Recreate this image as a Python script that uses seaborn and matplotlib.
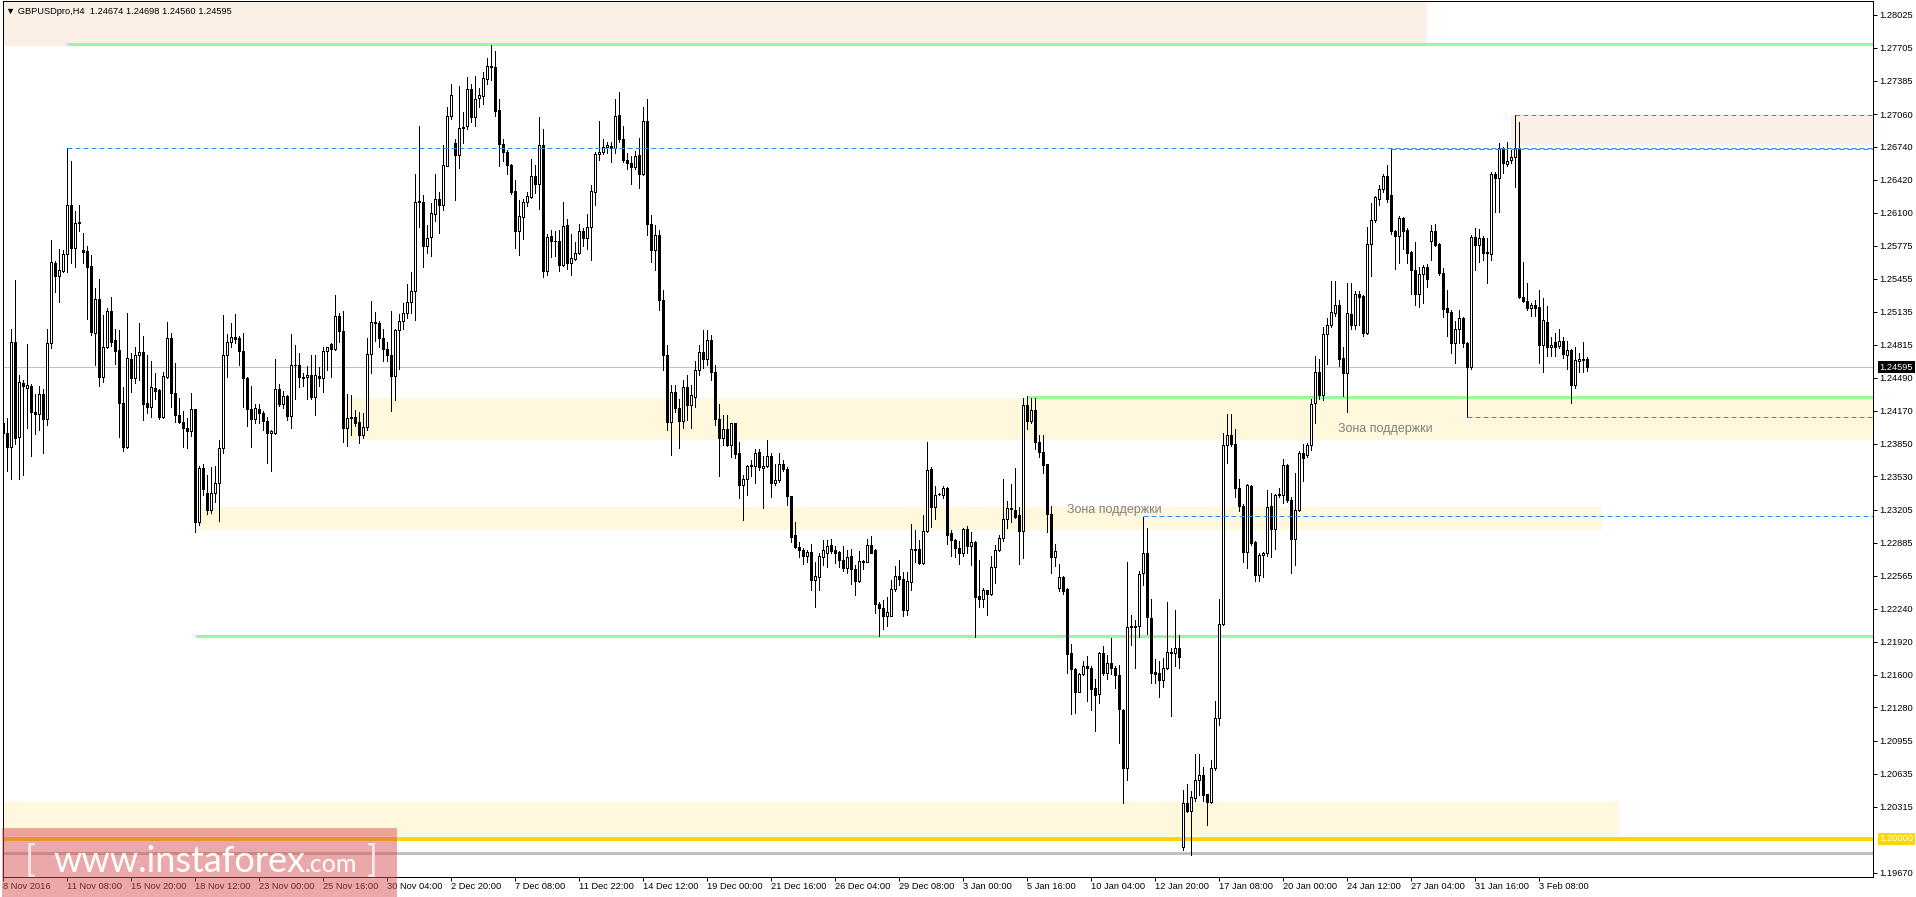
import numpy as np
import pandas as pd
import seaborn as sns
import matplotlib.pyplot as plt
from matplotlib.patches import Rectangle
from matplotlib.transforms import blended_transform_factory

# GBPUSD H4 candles (oldest first)
opens = [
    1.2405, 1.2395, 1.2382, 1.2484, 1.2391, 1.2444, 1.2439, 1.2441, 1.2416, 1.2414,
    1.2433, 1.2409, 1.2483, 1.2561, 1.2548, 1.2553, 1.2570, 1.2617, 1.2576, 1.2600,
    1.2574, 1.2573, 1.2558, 1.2493, 1.2526, 1.2450, 1.2479, 1.2514, 1.2486, 1.2476,
    1.2425, 1.2382, 1.2467, 1.2449, 1.2471, 1.2474, 1.2425, 1.2421, 1.2439, 1.2437,
    1.2411, 1.2450, 1.2488, 1.2434, 1.2413, 1.2406, 1.2400, 1.2397, 1.2419, 1.2309,
    1.2361, 1.2337, 1.2320, 1.2337, 1.2347, 1.2381, 1.2471, 1.2484, 1.2489, 1.2488,
    1.2475, 1.2449, 1.2419, 1.2409, 1.2419, 1.2415, 1.2407, 1.2395, 1.2395, 1.2438,
    1.2424, 1.2431, 1.2412, 1.2462, 1.2462, 1.2450, 1.2450, 1.2452, 1.2430, 1.2451,
    1.2449, 1.2475, 1.2482, 1.2477, 1.2509, 1.2495, 1.2400, 1.2411, 1.2411, 1.2406,
    1.2393, 1.2401, 1.2472, 1.2503, 1.2502, 1.2488, 1.2477, 1.2471, 1.2451, 1.2496,
    1.2504, 1.2512, 1.2523, 1.2534, 1.2620, 1.2620, 1.2577, 1.2586, 1.2609, 1.2623,
    1.2617, 1.2655, 1.2704, 1.2678, 1.2666, 1.2692, 1.2694, 1.2730, 1.2703, 1.2722,
    1.2724, 1.2740, 1.2752, 1.2752, 1.2710, 1.2677, 1.2669, 1.2656, 1.2631, 1.2592,
    1.2606, 1.2620, 1.2625, 1.2646, 1.2638, 1.2676, 1.2553, 1.2587, 1.2582, 1.2582,
    1.2559, 1.2598, 1.2561, 1.2565, 1.2571, 1.2592, 1.2585, 1.2596, 1.2630, 1.2667,
    1.2669, 1.2674, 1.2675, 1.2673, 1.2705, 1.2682, 1.2661, 1.2658, 1.2654, 1.2666,
    1.2648, 1.2699, 1.2599, 1.2574, 1.2588, 1.2525, 1.2471, 1.2406, 1.2435, 1.2420,
    1.2407, 1.2440, 1.2423, 1.2430, 1.2457, 1.2474, 1.2467, 1.2486, 1.2455, 1.2409,
    1.2390, 1.2399, 1.2384, 1.2405, 1.2376, 1.2345, 1.2351, 1.2364, 1.2363, 1.2377,
    1.2361, 1.2363, 1.2373, 1.2347, 1.2350, 1.2365, 1.2360, 1.2334, 1.2296, 1.2284,
    1.2281, 1.2276, 1.2279, 1.2252, 1.2255, 1.2275, 1.2278, 1.2286, 1.2281, 1.2279,
    1.2272, 1.2264, 1.2276, 1.2263, 1.2251, 1.2271, 1.2270, 1.2286, 1.2281, 1.2229,
    1.2225, 1.2217, 1.2217, 1.2243, 1.2256, 1.2253, 1.2223, 1.2250, 1.2282, 1.2282,
    1.2269, 1.2300, 1.2360, 1.2323, 1.2336, 1.2335, 1.2342, 1.2298, 1.2291, 1.2283,
    1.2278, 1.2302, 1.2285, 1.2289, 1.2237, 1.2234, 1.2242, 1.2239, 1.2265, 1.2281,
    1.2293, 1.2312, 1.2321, 1.2320, 1.2315, 1.2300, 1.2423, 1.2407, 1.2418, 1.2387,
    1.2377, 1.2365, 1.2316, 1.2275, 1.2244, 1.2255, 1.2243, 1.2181, 1.2165, 1.2143,
    1.2161, 1.2168, 1.2166, 1.2147, 1.2141, 1.2181, 1.2162, 1.2171, 1.2166, 1.2160,
    1.2126, 1.2069, 1.2207, 1.2206, 1.2207, 1.2259, 1.2278, 1.2215, 1.2163, 1.2162,
    1.2155, 1.2166, 1.2182, 1.2181, 1.2186, 1.1992, 1.2035, 1.2027, 1.2040, 1.2057,
    1.2062, 1.2044, 1.2036, 1.2069, 1.2118, 1.2209, 1.2384, 1.2393, 1.2385, 1.2342,
    1.2324, 1.2279, 1.2344, 1.2289, 1.2257, 1.2277, 1.2278, 1.2324, 1.2302, 1.2335,
    1.2335, 1.2364, 1.2330, 1.2292, 1.2320, 1.2376, 1.2374, 1.2384, 1.2425, 1.2455,
    1.2432, 1.2492, 1.2501, 1.2512, 1.2520, 1.2468, 1.2454, 1.2511, 1.2501, 1.2531,
    1.2529, 1.2493, 1.2579, 1.2603, 1.2623, 1.2633, 1.2646, 1.2627, 1.2592, 1.2587,
    1.2605, 1.2593, 1.2572, 1.2554, 1.2531, 1.2550, 1.2557, 1.2582, 1.2592, 1.2579,
    1.2551, 1.2517, 1.2513, 1.2483, 1.2497, 1.2507, 1.2483, 1.2460, 1.2586, 1.2578,
    1.2585, 1.2572, 1.2570, 1.2648, 1.2644, 1.2673, 1.2657, 1.2661, 1.2664, 1.2673,
    1.2528, 1.2524, 1.2517, 1.2520, 1.2518, 1.2481, 1.2503, 1.2479, 1.2484, 1.2480,
    1.2485, 1.2471, 1.2476, 1.2442, 1.2465, 1.2467, 1.24674,
]
highs = [
    1.2415, 1.2410, 1.2497, 1.2544, 1.2452, 1.2447, 1.2482, 1.2443, 1.2433, 1.2441,
    1.2438, 1.2497, 1.2583, 1.2563, 1.2575, 1.2574, 1.2673, 1.2660, 1.2612, 1.2617,
    1.2590, 1.2577, 1.2569, 1.2537, 1.2545, 1.2510, 1.2517, 1.2528, 1.2497, 1.2496,
    1.2440, 1.2512, 1.2473, 1.2479, 1.2502, 1.2490, 1.2471, 1.2465, 1.2454, 1.2438,
    1.2455, 1.2503, 1.2493, 1.2464, 1.2429, 1.2417, 1.2410, 1.2434, 1.2419, 1.2363,
    1.2365, 1.2354, 1.2362, 1.2363, 1.2389, 1.2510, 1.2492, 1.2502, 1.2511, 1.2490,
    1.2493, 1.2450, 1.2441, 1.2424, 1.2424, 1.2417, 1.2411, 1.2398, 1.2467, 1.2443,
    1.2436, 1.2432, 1.2492, 1.2481, 1.2473, 1.2454, 1.2461, 1.2471, 1.2471, 1.2460,
    1.2479, 1.2479, 1.2483, 1.2530, 1.2512, 1.2514, 1.2433, 1.2432, 1.2418, 1.2416,
    1.2415, 1.2488, 1.2524, 1.2513, 1.2504, 1.2497, 1.2484, 1.2514, 1.2497, 1.2511,
    1.2522, 1.2540, 1.2552, 1.2648, 1.2694, 1.2627, 1.2598, 1.2619, 1.2648, 1.2630,
    1.2676, 1.2713, 1.2735, 1.2682, 1.2733, 1.2708, 1.2742, 1.2735, 1.2743, 1.2731,
    1.2747, 1.2761, 1.2773, 1.2767, 1.2721, 1.2682, 1.2671, 1.2657, 1.2642, 1.2622,
    1.2623, 1.2630, 1.2662, 1.2656, 1.2703, 1.2691, 1.2589, 1.2593, 1.2592, 1.2593,
    1.2620, 1.2604, 1.2589, 1.2581, 1.2599, 1.2595, 1.2609, 1.2637, 1.2669, 1.2699,
    1.2682, 1.2679, 1.2679, 1.2721, 1.2727, 1.2694, 1.2668, 1.2665, 1.2670, 1.2683,
    1.2713, 1.2721, 1.2608, 1.2598, 1.2593, 1.2535, 1.2481, 1.2442, 1.2442, 1.2428,
    1.2447, 1.2452, 1.2442, 1.2465, 1.2481, 1.2496, 1.2496, 1.2491, 1.2462, 1.2424,
    1.2413, 1.2413, 1.2405, 1.2405, 1.2387, 1.2354, 1.2364, 1.2369, 1.2380, 1.2380,
    1.2373, 1.2389, 1.2376, 1.2365, 1.2376, 1.2369, 1.2362, 1.2334, 1.2309, 1.2289,
    1.2283, 1.2281, 1.2287, 1.2270, 1.2278, 1.2291, 1.2291, 1.2292, 1.2285, 1.2280,
    1.2285, 1.2281, 1.2282, 1.2267, 1.2280, 1.2272, 1.2292, 1.2295, 1.2282, 1.2231,
    1.2233, 1.2236, 1.2252, 1.2266, 1.2272, 1.2260, 1.2260, 1.2307, 1.2301, 1.2291,
    1.2315, 1.2387, 1.2362, 1.2344, 1.2337, 1.2344, 1.2343, 1.2301, 1.2292, 1.2290,
    1.2303, 1.2305, 1.2299, 1.2290, 1.2272, 1.2244, 1.2242, 1.2276, 1.2286, 1.2296,
    1.2351, 1.2329, 1.2346, 1.2361, 1.2323, 1.2429, 1.2431, 1.2429, 1.2429, 1.2393,
    1.2393, 1.2365, 1.2324, 1.2287, 1.2268, 1.2256, 1.2244, 1.2190, 1.2166, 1.2162,
    1.2173, 1.2178, 1.2168, 1.2156, 1.2182, 1.2188, 1.2179, 1.2196, 1.2168, 1.2169,
    1.2127, 1.2270, 1.2218, 1.2213, 1.2261, 1.2314, 1.2303, 1.2234, 1.2175, 1.2173,
    1.2176, 1.2231, 1.2186, 1.2223, 1.2199, 1.2048, 1.2053, 1.2047, 1.2083, 1.2083,
    1.2070, 1.2044, 1.2077, 1.2134, 1.2234, 1.2395, 1.2414, 1.2414, 1.2399, 1.2351,
    1.2326, 1.2346, 1.2345, 1.2290, 1.2278, 1.2279, 1.2340, 1.2337, 1.2336, 1.2342,
    1.2370, 1.2365, 1.2333, 1.2356, 1.2378, 1.2385, 1.2386, 1.2428, 1.2470, 1.2467,
    1.2499, 1.2507, 1.2543, 1.2543, 1.2525, 1.2479, 1.2541, 1.2541, 1.2534, 1.2534,
    1.2530, 1.2596, 1.2619, 1.2626, 1.2637, 1.2648, 1.2656, 1.2672, 1.2593, 1.2607,
    1.2606, 1.2595, 1.2573, 1.2581, 1.2557, 1.2559, 1.2560, 1.2598, 1.2599, 1.2580,
    1.2556, 1.2535, 1.2515, 1.2504, 1.2515, 1.2508, 1.2484, 1.2588, 1.2595, 1.2594,
    1.2587, 1.2585, 1.2650, 1.2650, 1.2678, 1.2674, 1.2679, 1.2671, 1.2705, 1.2698,
    1.2562, 1.2541, 1.2522, 1.2525, 1.2535, 1.2527, 1.2519, 1.2489, 1.2493, 1.2497,
    1.2489, 1.2485, 1.2477, 1.2479, 1.2473, 1.2484, 1.24698,
]
lows = [
    1.2363, 1.2358, 1.2351, 1.2385, 1.2351, 1.2354, 1.2400, 1.2373, 1.2394, 1.2398,
    1.2376, 1.2403, 1.2478, 1.2533, 1.2523, 1.2552, 1.2552, 1.2561, 1.2557, 1.2592,
    1.2561, 1.2506, 1.2491, 1.2462, 1.2441, 1.2445, 1.2478, 1.2480, 1.2463, 1.2391,
    1.2378, 1.2381, 1.2435, 1.2444, 1.2447, 1.2408, 1.2415, 1.2411, 1.2428, 1.2409,
    1.2410, 1.2449, 1.2421, 1.2406, 1.2405, 1.2382, 1.2381, 1.2392, 1.2299, 1.2306,
    1.2335, 1.2316, 1.2317, 1.2328, 1.2310, 1.2376, 1.2450, 1.2479, 1.2483, 1.2462,
    1.2421, 1.2402, 1.2382, 1.2405, 1.2405, 1.2398, 1.2366, 1.2358, 1.2394, 1.2422,
    1.2420, 1.2408, 1.2400, 1.2428, 1.2440, 1.2441, 1.2428, 1.2428, 1.2413, 1.2441,
    1.2435, 1.2457, 1.2450, 1.2476, 1.2484, 1.2387, 1.2383, 1.2393, 1.2402, 1.2386,
    1.2390, 1.2398, 1.2454, 1.2485, 1.2479, 1.2465, 1.2465, 1.2417, 1.2427, 1.2458,
    1.2497, 1.2507, 1.2512, 1.2505, 1.2596, 1.2557, 1.2571, 1.2568, 1.2602, 1.2590,
    1.2613, 1.2655, 1.2701, 1.2622, 1.2653, 1.2678, 1.2691, 1.2698, 1.2694, 1.2713,
    1.2716, 1.2735, 1.2739, 1.2704, 1.2655, 1.2660, 1.2648, 1.2628, 1.2576, 1.2569,
    1.2584, 1.2616, 1.2624, 1.2629, 1.2614, 1.2547, 1.2549, 1.2567, 1.2568, 1.2553,
    1.2558, 1.2555, 1.2549, 1.2564, 1.2570, 1.2577, 1.2575, 1.2564, 1.2617, 1.2661,
    1.2667, 1.2668, 1.2659, 1.2668, 1.2679, 1.2659, 1.2652, 1.2638, 1.2652, 1.2634,
    1.2647, 1.2588, 1.2562, 1.2554, 1.2515, 1.2457, 1.2398, 1.2374, 1.2416, 1.2381,
    1.2400, 1.2408, 1.2400, 1.2421, 1.2452, 1.2459, 1.2462, 1.2447, 1.2403, 1.2353,
    1.2384, 1.2383, 1.2372, 1.2371, 1.2332, 1.2311, 1.2335, 1.2353, 1.2347, 1.2359,
    1.2322, 1.2362, 1.2333, 1.2345, 1.2348, 1.2358, 1.2325, 1.2289, 1.2283, 1.2275,
    1.2268, 1.2270, 1.2242, 1.2226, 1.2242, 1.2267, 1.2265, 1.2278, 1.2269, 1.2265,
    1.2261, 1.2259, 1.2248, 1.2238, 1.2250, 1.2263, 1.2270, 1.2278, 1.2220, 1.2198,
    1.2204, 1.2207, 1.2217, 1.2241, 1.2247, 1.2217, 1.2218, 1.2242, 1.2270, 1.2268,
    1.2268, 1.2299, 1.2304, 1.2312, 1.2335, 1.2332, 1.2287, 1.2276, 1.2275, 1.2268,
    1.2276, 1.2278, 1.2267, 1.2197, 1.2226, 1.2226, 1.2218, 1.2238, 1.2249, 1.2280,
    1.2290, 1.2303, 1.2309, 1.2313, 1.2268, 1.2274, 1.2399, 1.2405, 1.2380, 1.2372,
    1.2356, 1.2299, 1.2259, 1.2266, 1.2241, 1.2239, 1.2162, 1.2122, 1.2123, 1.2143,
    1.2160, 1.2134, 1.2126, 1.2105, 1.2132, 1.2160, 1.2156, 1.2161, 1.2147, 1.2093,
    1.2035, 1.2057, 1.2189, 1.2166, 1.2197, 1.2247, 1.2200, 1.2152, 1.2152, 1.2138,
    1.2148, 1.2165, 1.2120, 1.2168, 1.2166, 1.1989, 1.2026, 1.1984, 1.2037, 1.2043,
    1.2037, 1.2014, 1.2035, 1.2067, 1.2111, 1.2208, 1.2366, 1.2383, 1.2333, 1.2319,
    1.2270, 1.2264, 1.2286, 1.2251, 1.2251, 1.2255, 1.2276, 1.2275, 1.2282, 1.2333,
    1.2327, 1.2328, 1.2259, 1.2267, 1.2319, 1.2349, 1.2372, 1.2379, 1.2405, 1.2428,
    1.2427, 1.2463, 1.2499, 1.2509, 1.2461, 1.2431, 1.2416, 1.2497, 1.2497, 1.2501,
    1.2490, 1.2492, 1.2548, 1.2601, 1.2617, 1.2630, 1.2620, 1.2589, 1.2555, 1.2561,
    1.2575, 1.2561, 1.2531, 1.2520, 1.2518, 1.2522, 1.2538, 1.2564, 1.2577, 1.2549,
    1.2508, 1.2490, 1.2473, 1.2464, 1.2483, 1.2479, 1.2411, 1.2458, 1.2554, 1.2562,
    1.2564, 1.2541, 1.2564, 1.2611, 1.2611, 1.2649, 1.2655, 1.2658, 1.2635, 1.2527,
    1.2523, 1.2515, 1.2509, 1.2509, 1.2464, 1.2455, 1.2470, 1.2470, 1.2470, 1.2478,
    1.2468, 1.2458, 1.2425, 1.2439, 1.2455, 1.2455, 1.24560,
]
closes = [
    1.2395, 1.2382, 1.2484, 1.2390, 1.2445, 1.2441, 1.2442, 1.2416, 1.2414, 1.2433,
    1.2409, 1.2483, 1.2562, 1.2548, 1.2554, 1.2570, 1.2617, 1.2576, 1.2600, 1.2601,
    1.2572, 1.2557, 1.2494, 1.2526, 1.2450, 1.2479, 1.2514, 1.2484, 1.2475, 1.2425,
    1.2382, 1.2468, 1.2449, 1.2471, 1.2474, 1.2424, 1.2421, 1.2440, 1.2436, 1.2411,
    1.2451, 1.2488, 1.2434, 1.2413, 1.2406, 1.2400, 1.2397, 1.2419, 1.2309, 1.2361,
    1.2341, 1.2320, 1.2337, 1.2347, 1.2381, 1.2471, 1.2484, 1.2489, 1.2487, 1.2475,
    1.2449, 1.2419, 1.2409, 1.2420, 1.2415, 1.2407, 1.2395, 1.2397, 1.2438, 1.2424,
    1.2431, 1.2412, 1.2462, 1.2462, 1.2450, 1.2449, 1.2452, 1.2430, 1.2452, 1.2449,
    1.2475, 1.2479, 1.2477, 1.2509, 1.2495, 1.2400, 1.2410, 1.2410, 1.2405, 1.2393,
    1.2401, 1.2472, 1.2503, 1.2502, 1.2488, 1.2477, 1.2471, 1.2451, 1.2496, 1.2504,
    1.2512, 1.2523, 1.2534, 1.2620, 1.2621, 1.2577, 1.2585, 1.2610, 1.2623, 1.2617,
    1.2656, 1.2704, 1.2725, 1.2666, 1.2692, 1.2693, 1.2730, 1.2703, 1.2721, 1.2725,
    1.2741, 1.2753, 1.2753, 1.2709, 1.2677, 1.2669, 1.2656, 1.2630, 1.2592, 1.2607,
    1.2620, 1.2626, 1.2646, 1.2638, 1.2676, 1.2553, 1.2586, 1.2582, 1.2582, 1.2559,
    1.2597, 1.2561, 1.2566, 1.2571, 1.2592, 1.2585, 1.2596, 1.2631, 1.2667, 1.2669,
    1.2674, 1.2676, 1.2673, 1.2704, 1.2682, 1.2661, 1.2658, 1.2654, 1.2665, 1.2648,
    1.2699, 1.2599, 1.2574, 1.2588, 1.2525, 1.2471, 1.2406, 1.2435, 1.2420, 1.2407,
    1.2440, 1.2423, 1.2432, 1.2457, 1.2474, 1.2467, 1.2486, 1.2455, 1.2409, 1.2390,
    1.2399, 1.2384, 1.2405, 1.2375, 1.2345, 1.2351, 1.2363, 1.2363, 1.2376, 1.2362,
    1.2363, 1.2373, 1.2347, 1.2350, 1.2365, 1.2360, 1.2334, 1.2294, 1.2284, 1.2281,
    1.2276, 1.2279, 1.2252, 1.2256, 1.2276, 1.2281, 1.2285, 1.2280, 1.2278, 1.2272,
    1.2264, 1.2275, 1.2263, 1.2251, 1.2271, 1.2270, 1.2286, 1.2278, 1.2229, 1.2225,
    1.2217, 1.2221, 1.2243, 1.2256, 1.2253, 1.2223, 1.2251, 1.2282, 1.2281, 1.2269,
    1.2300, 1.2359, 1.2323, 1.2335, 1.2336, 1.2342, 1.2296, 1.2291, 1.2283, 1.2278,
    1.2302, 1.2285, 1.2289, 1.2236, 1.2234, 1.2242, 1.2239, 1.2265, 1.2281, 1.2293,
    1.2312, 1.2322, 1.2322, 1.2314, 1.2300, 1.2423, 1.2407, 1.2418, 1.2387, 1.2377,
    1.2364, 1.2316, 1.2275, 1.2280, 1.2255, 1.2241, 1.2180, 1.2165, 1.2143, 1.2161,
    1.2168, 1.2166, 1.2146, 1.2140, 1.2181, 1.2162, 1.2171, 1.2166, 1.2160, 1.2127,
    1.2069, 1.2206, 1.2206, 1.2207, 1.2258, 1.2278, 1.2216, 1.2162, 1.2161, 1.2155,
    1.2166, 1.2182, 1.2181, 1.2186, 1.2177, 1.2035, 1.2027, 1.2041, 1.2057, 1.2062,
    1.2043, 1.2036, 1.2069, 1.2118, 1.2209, 1.2384, 1.2393, 1.2385, 1.2342, 1.2324,
    1.2279, 1.2345, 1.2288, 1.2257, 1.2277, 1.2278, 1.2323, 1.2302, 1.2335, 1.2336,
    1.2364, 1.2330, 1.2292, 1.2320, 1.2376, 1.2371, 1.2384, 1.2424, 1.2455, 1.2432,
    1.2492, 1.2501, 1.2513, 1.2520, 1.2467, 1.2454, 1.2512, 1.2501, 1.2531, 1.2528,
    1.2493, 1.2579, 1.2603, 1.2625, 1.2633, 1.2646, 1.2623, 1.2592, 1.2587, 1.2605,
    1.2592, 1.2571, 1.2554, 1.2531, 1.2550, 1.2557, 1.2545, 1.2592, 1.2578, 1.2551,
    1.2516, 1.2513, 1.2483, 1.2497, 1.2507, 1.2483, 1.2460, 1.2586, 1.2578, 1.2585,
    1.2571, 1.2571, 1.2648, 1.2644, 1.2673, 1.2658, 1.2660, 1.2664, 1.2673, 1.2528,
    1.2524, 1.2517, 1.2520, 1.2517, 1.2481, 1.2505, 1.2479, 1.2481, 1.2479, 1.2485,
    1.2472, 1.2476, 1.2442, 1.2466, 1.2467, 1.2466, 1.24595,
]

date_labels = [
    "8 Nov 2016", "11 Nov 08:00", "15 Nov 20:00", "18 Nov 12:00", "23 Nov 00:00",
    "25 Nov 16:00", "30 Nov 04:00", "2 Dec 20:00", "7 Dec 08:00", "11 Dec 22:00",
    "14 Dec 12:00", "19 Dec 00:00", "21 Dec 16:00", "26 Dec 04:00", "29 Dec 08:00",
    "3 Jan 00:00", "5 Jan 16:00", "10 Jan 04:00", "12 Jan 20:00", "17 Jan 08:00",
    "20 Jan 00:00", "24 Jan 12:00", "27 Jan 04:00", "31 Jan 16:00", "3 Feb 08:00",
]
price_ticks = [
    1.28025, 1.27705, 1.27385, 1.27060, 1.26740, 1.26420, 1.26100, 1.25775,
    1.25455, 1.25135, 1.24815, 1.24490, 1.24170, 1.23850, 1.23530, 1.23205,
    1.22885, 1.22565, 1.22240, 1.21920, 1.21600, 1.21280, 1.20955, 1.20635,
    1.20315, 1.19670,
]

# zones drawn on the chart: (first bar, last bar, low price, high price, colour)
zones = [
    (-1, 355.9, 1.27720, 1.2830, "#FAF0E6"),
    (376.9, 470, 1.26759, 1.27041, "#FAF0E6"),
    (86.2, 470, 1.23885, 1.24294, "#FFF8DC"),
    (48.9, 399.7, 1.23009, 1.23233, "#FFF8DC"),
    (-1, 403.9, 1.20028, 1.20360, "#FFF8DC"),
]
# green levels: (price, first bar)
green_levels = [(1.27738, 15.9), (1.24304, 256.2), (1.21976, 47.9)]
# blue dashed levels: (price, first bar)
dashed_levels = [(1.26729, 15.9), (1.26719, 347.0), (1.27051, 378.0),
                 (1.23145, 285.0), (1.24109, 366.0)]
support_texts = [(265.9, 1.23204), (333.7, 1.23988)]
last_price = 1.24595
round_level = 1.20000
grey_level = 1.19863

W, H = 1916, 897
XMIN, XMAX = -0.2, 467.4
YMIN, YMAX = 1.19629, 1.28161

sns.set_theme(style="white")
plt.rcParams["font.family"] = ["Liberation Sans", "DejaVu Sans"]
plt.rcParams["axes.linewidth"] = 0.72

fig = plt.figure(figsize=(W / 100, H / 100), dpi=100)
fig.patch.set_facecolor("white")
ax = fig.add_axes([2.5 / W, 20 / H, 1870.5 / W, 876 / H])
ax.set_facecolor("white")

df = pd.DataFrame({"open": opens, "high": highs, "low": lows, "close": closes})
df["bar"] = np.arange(len(df))
df["up"] = df["close"] >= df["open"]

for x0, x1, lo, hi, col in zones:
    ax.add_patch(Rectangle((x0, lo), x1 - x0, hi - lo, facecolor=col,
                           edgecolor="none", zorder=0.5))

ax.axhline(last_price, color="#C0C0C0", linewidth=0.72, zorder=1)
ax.axhline(round_level, color="#FFD700", linewidth=2.9, zorder=1)
ax.axhline(grey_level, color="#C0C0C0", linewidth=2.2, zorder=1)
for price, start in green_levels:
    ax.hlines(price, start, 470, color="#98FB98", linewidth=2.2, zorder=1.5)

# candles: wicks first, bodies on top
ax.vlines(df["bar"], df["low"], df["high"], color="black", linewidth=0.72,
          zorder=3, antialiased=False)
ax.bar(df["bar"], (df["close"] - df["open"]).abs(),
       bottom=df[["open", "close"]].min(axis=1), width=0.5,
       color=np.where(df["up"], "white", "black"), edgecolor="black",
       linewidth=0.72, zorder=4, antialiased=False)

for price, start in dashed_levels:
    ax.hlines(price, start, 470, color="#1E90FF", linewidth=0.72,
              linestyle=(0, (5, 3)), zorder=5)

for bx, by in support_texts:
    ax.text(bx, by, "Зона поддержки", color="#808080", fontsize=9,
            ha="left", va="center", zorder=6)

ax.set_xlim(XMIN, XMAX)
ax.set_ylim(YMIN, YMAX)

ax.set_xticks(np.arange(len(date_labels)) * 16)
ax.set_xticklabels(date_labels, ha="left")
ax.yaxis.tick_right()
ax.set_yticks(price_ticks)
ax.set_yticklabels([f"{v:.5f}" for v in price_ticks])
ax.tick_params(axis="x", direction="out", length=2.9, width=0.72, pad=0.8,
               labelsize=6.7, colors="black", bottom=True)
ax.tick_params(axis="y", direction="out", length=2.9, width=0.72, pad=1.5,
               labelsize=6.7, colors="black", right=True, left=False)
for sp in ax.spines.values():
    sp.set_color("black")
    sp.set_linewidth(0.72)
ax.set_xlabel("")
ax.set_ylabel("")

trans = blended_transform_factory(ax.transAxes, ax.transData)
ax.text(1.0035, last_price, f"{last_price:.5f}", transform=trans, color="white",
        fontsize=6.7, ha="left", va="center", clip_on=False, zorder=7,
        bbox=dict(boxstyle="square,pad=0.2", facecolor="black", edgecolor="none"))
ax.text(1.0035, round_level, f"{round_level:.5f}", transform=trans, color="white",
        fontsize=6.7, ha="left", va="center", clip_on=False, zorder=7,
        bbox=dict(boxstyle="square,pad=0.2", facecolor="#FFD700", edgecolor="none"))

fig.text(6 / W, 1 - 11 / H, "\u25bc GBPUSDpro,H4  1.24674 1.24698 1.24560 1.24595",
         fontsize=6.7, ha="left", va="center", color="black", zorder=7)

# watermark
fig.add_artist(Rectangle((2 / W, 0), 395 / W, 69 / H, transform=fig.transFigure,
                         facecolor=(0.85, 0.32, 0.32), alpha=0.5,
                         edgecolor="none", zorder=8))
base = (H - 872) / H
wm_font = ["Lato", "DejaVu Sans"]
fig.text(25 / W, base, "[", fontsize=26, family=wm_font,
         color="#F6E8E8", ha="left", va="baseline", zorder=9)
fig.text(53 / W, base, "www.instaforex", fontsize=26, family=wm_font,
         color="white", ha="left", va="baseline", zorder=9)
fig.text(305 / W, base, ".com", fontsize=18, family=wm_font,
         color="white", ha="left", va="baseline", zorder=9)
fig.text(367 / W, base, "]", fontsize=26, family=wm_font,
         color="#F6E8E8", ha="left", va="baseline", zorder=9)

fig.savefig("out.png", dpi=100, facecolor="white")
